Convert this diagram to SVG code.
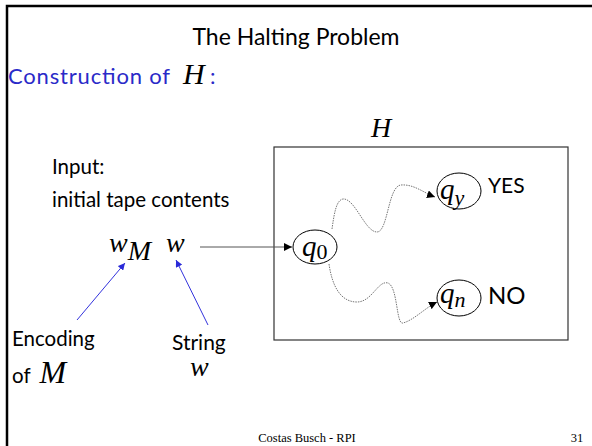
<svg xmlns="http://www.w3.org/2000/svg" width="592" height="446" viewBox="0 0 592 446">
<style>
.sans{font-family:"Lato","Open Sans","Liberation Sans",sans-serif;fill:#000}
.blue{fill:#2a2ac8}
.math{font-family:"Liberation Serif","DejaVu Serif",serif;font-style:italic;fill:#000}
.rom{font-family:"Liberation Serif","DejaVu Serif",serif;fill:#000}
.node{fill:#fff;stroke:#000;stroke-width:1}
.wave{fill:none;stroke:#777;stroke-width:1;stroke-dasharray:1.5 1}
</style>
<defs>
<marker id="ah" viewBox="0 0 10 10" refX="10" refY="5" markerWidth="8" markerHeight="8" markerUnits="userSpaceOnUse" orient="auto"><path d="M0,0 L10,5 L0,10 z" fill="#000"/></marker>
<marker id="ab" viewBox="0 0 10 10" refX="10" refY="5" markerWidth="7" markerHeight="7" markerUnits="userSpaceOnUse" orient="auto"><path d="M0,0 L10,5 L0,10 z" fill="#2a2ad8"/></marker>
</defs>
<rect width="592" height="446" fill="#fff"/>
<path d="M7,446 V6 H592" fill="none" stroke="#000" stroke-width="2.5"/>
<text x="296" y="45" text-anchor="middle" class="sans" font-size="23">The Halting Problem</text>
<text x="8" y="84" class="sans blue" font-size="22" textLength="162" lengthAdjust="spacing">Construction of</text>
<text x="183" y="84" class="math" font-size="30">H</text>
<text x="210" y="84" class="sans blue" font-size="22">:</text>
<text x="381" y="137" text-anchor="middle" class="math" font-size="28">H</text>
<g id="input">
<text x="52" y="174" class="sans" font-size="20.5">Input:</text>
<text x="52" y="207" class="sans" font-size="20.5">initial tape contents</text>
<text x="109" y="252" class="math" font-size="28">w<tspan font-size="28" dy="8">M</tspan></text>
<text x="166" y="252" class="math" font-size="28">w</text>
</g>
<g id="H">
<rect x="274" y="147" width="294" height="193" fill="none" stroke="#333" stroke-width="1.2"/>
</g>
<g id="q0">
<ellipse cx="315" cy="247" rx="22" ry="17" class="node"/>
<text x="302" y="256" class="math" font-size="29">q<tspan class="rom" font-style="normal" font-size="22" dy="3">0</tspan></text>
</g>
<g id="qy">
<ellipse cx="459" cy="191" rx="22" ry="18" class="node"/>
<text x="440" y="199" class="math" font-size="29">q<tspan font-size="22" dy="6">y</tspan></text>
<text x="488" y="193" class="sans" font-size="21">YES</text>
</g>
<g id="qn">
<ellipse cx="459" cy="298" rx="22" ry="18" class="node"/>
<text x="440" y="303" class="math" font-size="29">q<tspan font-size="22" dy="4">n</tspan></text>
<text x="488" y="304" class="sans" font-size="24">NO</text>
</g>
<g id="labels">
<text x="12" y="346" class="sans" font-size="20.5">Encoding</text>
<text x="12" y="383" class="sans" font-size="20.5">of <tspan class="math" font-size="32" dx="4">M</tspan></text>
<text x="172" y="350" class="sans" font-size="21">String</text>
<text x="190" y="376" class="math" font-size="28">w</text>
<text x="307" y="442" text-anchor="middle" class="rom" font-size="12.5">Costas Busch - RPI</text>
<text x="577" y="442" text-anchor="middle" class="rom" font-size="12.5">31</text>
</g>
<g id="connectors">
<line x1="200" y1="247" x2="292" y2="247" stroke="#555" stroke-width="1" marker-end="url(#ah)"/>
<line x1="77" y1="320" x2="125" y2="263" stroke="#3333dd" stroke-width="1" marker-end="url(#ab)"/>
<line x1="208" y1="325" x2="176" y2="260" stroke="#3333dd" stroke-width="1" marker-end="url(#ab)"/>
<path class="wave" d="M332,229 C334,215 336,200 343,199 C355,198 365,232 377,232 C388,232 388,186 401,185 C414,184 424,193 435,197" marker-end="url(#ah)"/>
<path class="wave" d="M329,264 C332,285 340,302 357,302 C372,302 378,280 388,283 C398,287 396,325 403,323 C414,320 425,308 437,302" marker-end="url(#ah)"/>
</g>
</svg>
